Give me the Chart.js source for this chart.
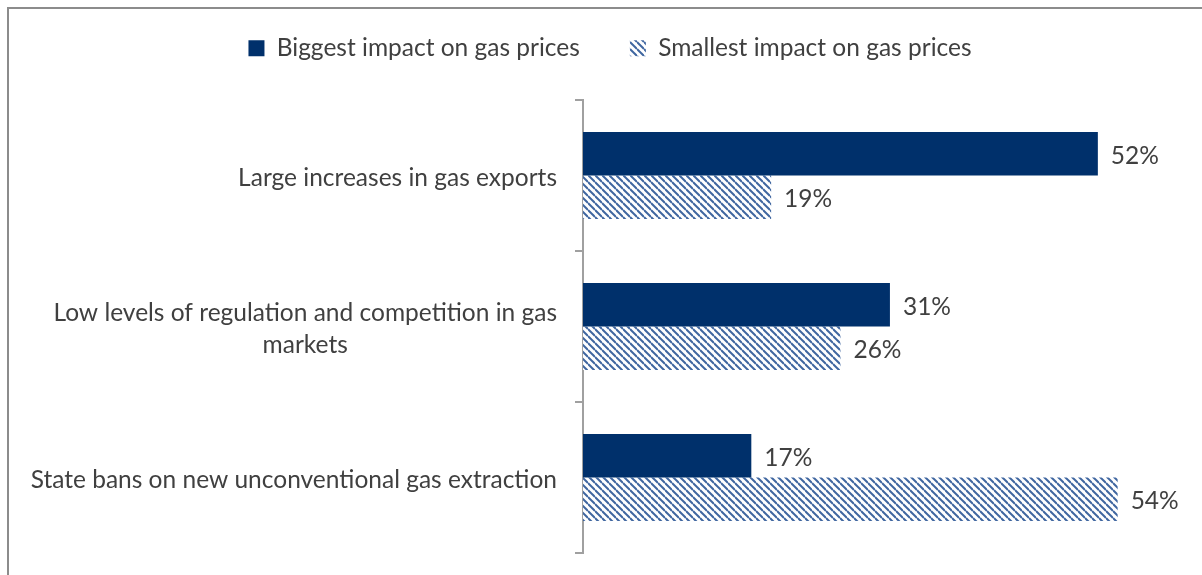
<!DOCTYPE html>
<html>
<head>
<meta charset="utf-8">
<script src="https://cdn.jsdelivr.net/npm/chart.js@4/dist/chart.umd.min.js"></script>
<style>
  body { margin: 0; background: #fff; }
  #frame { position: absolute; left: 7px; top: 7px; width: 1200px; height: 570px;
           border-top: 2px solid #8c8c8c; border-left: 2px solid #8c8c8c; }
  #myChart { position: absolute; left: 0; top: 0; }
</style>
</head>
<body>
<div id="frame"></div>
<canvas id="myChart" width="1202" height="575"></canvas>
<script>
const categories = [
  ["Large increases in gas exports"],
  ["Low levels of regulation and competition in gas", "markets"],
  ["State bans on new unconventional gas extraction"],
];
const biggest = [52, 31, 17];
const smallest = [19, 26, 54];
const seriesNames = ["Biggest impact on gas prices", "Smallest impact on gas prices"];

const textColor = "#404040";
const fontFamily = "Lato, 'Open Sans', sans-serif";
const fontSize = 24.5;

// hatch for the "smallest" series
function makeHatch() {
  const c = document.createElement("canvas");
  c.width = 7;
  c.height = 7;
  const g = c.getContext("2d");
  g.fillStyle = "#ffffff";
  g.fillRect(0, 0, 7, 7);
  g.strokeStyle = "#3f66a0";
  g.lineWidth = 2;
  for (const k of [-7, 0, 7]) {
    g.beginPath();
    g.moveTo(0, k);
    g.lineTo(7, 7 + k);
    g.stroke();
  }
  return g.createPattern(c, "repeat");
}

const labelsPlugin = {
  id: "labelsPlugin",
  afterDraw(chart) {
    const ctx = chart.ctx;
    const yScale = chart.scales.y;
    ctx.save();
    ctx.font = fontSize + "px " + fontFamily;
    ctx.fillStyle = textColor;
    ctx.textBaseline = "middle";
    // category labels, block right-aligned, lines centred inside it
    categories.forEach((lines, i) => {
      const cy = yScale.getPixelForValue(i) + 3;
      const w = Math.max(...lines.map(l => ctx.measureText(l).width));
      const right = yScale.right - 26;
      ctx.textAlign = "center";
      lines.forEach((l, j) => {
        const y = cy + (j - (lines.length - 1) / 2) * 32;
        ctx.fillText(l, right - w / 2, y);
      });
    });
    // value labels
    ctx.textAlign = "left";
    chart.data.datasets.forEach((ds, di) => {
      const meta = chart.getDatasetMeta(di);
      meta.data.forEach((bar, i) => {
        ctx.fillText(ds.data[i] + "%", bar.x + 13, bar.y + 2);
      });
    });
    ctx.restore();
  },
};

new Chart(document.getElementById("myChart"), {
  type: "bar",
  data: {
    labels: categories,
    datasets: [
      {
        label: seriesNames[0],
        data: biggest,
        backgroundColor: "#00306b",
        borderWidth: 0,
      },
      {
        label: seriesNames[1],
        data: smallest,
        backgroundColor: makeHatch(),
        borderWidth: 0,
      },
    ],
  },
  options: {
    indexAxis: "y",
    responsive: false,
    animation: false,
    categoryPercentage: 0.576,
    barPercentage: 1.0,
    layout: {
      padding: { top: -14, left: 37, right: 19, bottom: 22 },
    },
    plugins: {
      legend: {
        position: "top",
        labels: {
          boxWidth: 16,
          boxHeight: 16,
          padding: 50,
          color: textColor,
          font: { size: fontSize, family: fontFamily },
        },
      },
      tooltip: { enabled: false },
    },
    scales: {
      x: {
        position: "top",
        min: 0,
        max: 60.6,
        grid: { display: false },
        ticks: { display: false },
        border: { display: false },
        afterFit: (s) => { s.height = 29.5; },
      },
      y: {
        offset: true,
        grid: {
          offset: true,
          drawOnChartArea: false,
          drawTicks: true,
          tickLength: 8,
          color: "#a0a0a0",
          lineWidth: 2,
        },
        border: { color: "#a0a0a0", width: 2 },
        ticks: { display: false },
        afterFit: (s) => { s.width = 546; },
      },
    },
  },
  plugins: [labelsPlugin],
});
</script>
</body>
</html>
